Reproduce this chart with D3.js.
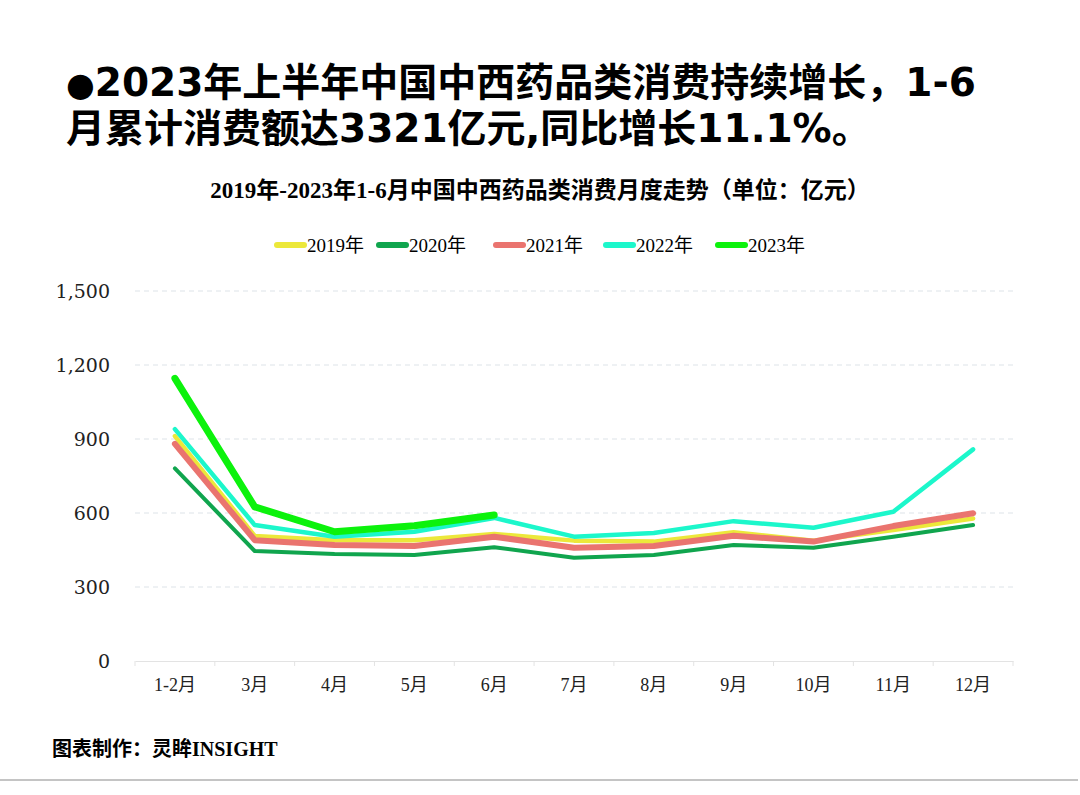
<!DOCTYPE html>
<html>
<head>
<meta charset="utf-8">
<script src="https://cdn.jsdelivr.net/npm/d3@7"></script>
<style>
  body { margin: 0; background: #fff; }
  svg { display: block; }
</style>
</head>
<body>
<svg id="chart" width="1080" height="795"></svg>
<script>
// months on x axis
const months = ['1-2月','3月','4月','5月','6月','7月','8月','9月','10月','11月','12月'];
const yTicks = [0, 300, 600, 900, 1200, 1500];

// values (亿元)
const v2019 = [912, 507, 490, 490, 515, 488, 484, 522, 488, 531, 578];
const v2020 = [781, 446, 434, 430, 461, 419, 430, 470, 459, 504, 551];
const v2021 = [880, 490, 470, 466, 504, 459, 466, 508, 484, 547, 599];
const v2022 = [940, 551, 504, 524, 580, 504, 519, 567, 540, 605, 858];
const v2023 = [1146, 625, 524, 548, 592];

const series = [
  {name: '2019年', values: v2019, color: '#ece83a', width: 4.5},
  {name: '2020年', values: v2020, color: '#10a54e', width: 4},
  {name: '2021年', values: v2021, color: '#ea746f', width: 6},
  {name: '2022年', values: v2022, color: '#1cf7cb', width: 4.5},
  {name: '2023年', values: v2023, color: '#0cf20c', width: 7}
];

const svg = d3.select('#chart');
const serifCjk = '"Liberation Serif", "Noto Sans CJK SC", serif';

// big headline, two lines
const headFont = '"DejaVu Sans", "Noto Sans CJK SC", sans-serif';
const head1 = svg.append('text')
  .attr('x', 66).attr('y', 96)
  .attr('font-family', headFont).attr('font-weight', 700).attr('font-size', 39);
head1.append('tspan').attr('font-size', 33).text('●');
head1.append('tspan').text('2023年上半年中国中西药品类消费持续增长，1-6');
svg.append('text')
  .attr('x', 66).attr('y', 142)
  .attr('font-family', headFont).attr('font-weight', 700).attr('font-size', 39)
  .text('月累计消费额达3321亿元,同比增长11.1%。');

// chart title
svg.append('text')
  .attr('x', 540).attr('y', 198)
  .attr('text-anchor', 'middle')
  .attr('font-family', serifCjk)
  .attr('font-weight', 700)
  .attr('font-size', 23)
  .text('2019年-2023年1-6月中国中西药品类消费月度走势（单位：亿元）');

// legend
const legendX = [275, 377, 494, 604, 716];
const legend = svg.append('g');
series.forEach((s, i) => {
  const g = legend.append('g').attr('transform', `translate(${legendX[i]},245)`);
  g.append('line')
    .attr('x1', 2).attr('x2', 29)
    .attr('stroke', s.color).attr('stroke-width', 6).attr('stroke-linecap', 'round');
  g.append('text')
    .attr('x', 32).attr('y', 7)
    .attr('font-family', serifCjk)
    .attr('font-size', 19)
    .text(s.name);
});

const margin = {left: 135, right: 1013, top: 291, bottom: 661};

const x = d3.scaleBand().domain(months).range([margin.left, margin.right]);
const y = d3.scaleLinear().domain([0, 1500]).range([margin.bottom, margin.top]);

// grid lines
svg.append('g')
  .selectAll('line')
  .data(yTicks.filter(d => d > 0))
  .join('line')
  .attr('x1', margin.left).attr('x2', margin.right)
  .attr('y1', d => y(d)).attr('y2', d => y(d))
  .attr('stroke', '#dde3e8')
  .attr('stroke-dasharray', '5,4');

// y axis
const yAxis = svg.append('g')
  .attr('transform', `translate(${margin.left},0)`)
  .call(d3.axisLeft(y).tickValues(yTicks).tickFormat(d3.format(',')).tickSize(0).tickPadding(25));
yAxis.select('.domain').remove();
yAxis.selectAll('text')
  .attr('font-family', '"DejaVu Serif", serif')
  .attr('font-size', 19)
  .attr('fill', '#222');

// x axis
const xAxis = svg.append('g')
  .attr('transform', `translate(0,${margin.bottom})`)
  .call(d3.axisBottom(x).tickSize(0).tickPadding(17));
xAxis.select('.domain').attr('stroke', '#e3e3e3');
xAxis.selectAll('text')
  .attr('font-family', serifCjk)
  .attr('font-size', 18)
  .attr('fill', '#222');
xAxis.selectAll('.sep')
  .data(d3.range(months.length + 1))
  .join('line')
  .attr('class', 'sep')
  .attr('x1', i => margin.left + i * x.step())
  .attr('x2', i => margin.left + i * x.step())
  .attr('y1', 0).attr('y2', 5)
  .attr('stroke', '#e3e3e3');

// lines
const line = d3.line()
  .x((d, i) => x(months[i]) + x.bandwidth() / 2)
  .y(d => y(d));

svg.append('g')
  .selectAll('path')
  .data(series)
  .join('path')
  .attr('d', s => line(s.values))
  .attr('fill', 'none')
  .attr('stroke', s => s.color)
  .attr('stroke-width', s => s.width)
  .attr('stroke-linecap', 'round')
  .attr('stroke-linejoin', 'round');

// footer
svg.append('text')
  .attr('x', 52).attr('y', 756)
  .attr('font-family', serifCjk)
  .attr('font-weight', 700)
  .attr('font-size', 20)
  .text('图表制作：灵眸INSIGHT');

svg.append('line')
  .attr('x1', 0).attr('x2', 1078)
  .attr('y1', 780).attr('y2', 780)
  .attr('stroke', '#c4c4c4')
  .attr('stroke-width', 2);
</script>
</body>
</html>
